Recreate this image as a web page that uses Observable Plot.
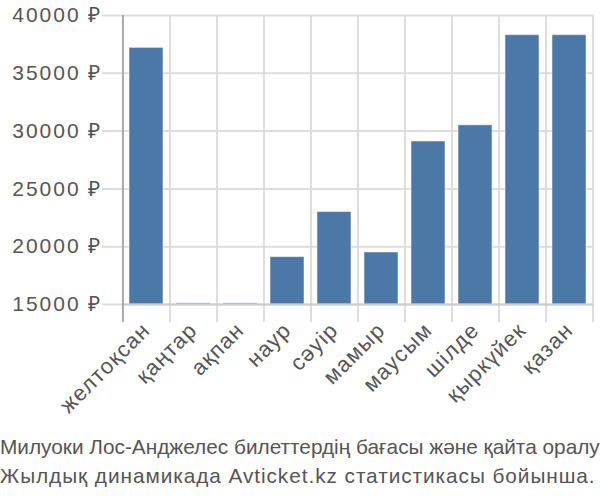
<!DOCTYPE html>
<html>
<head>
<meta charset="utf-8">
<script src="https://cdn.jsdelivr.net/npm/d3@7"></script>
<script src="https://cdn.jsdelivr.net/npm/@observablehq/plot@0.6"></script>
<style>
  body { margin: 0; background: #fff; font-family: "Liberation Sans", Arial, sans-serif; }
  #caption { color: #555; font-size: 20.8px; line-height: 29px; white-space: nowrap; margin-top: 2px; }
  #caption .l2 { letter-spacing: 0.94px; }
</style>
</head>
<body>
<div id="chart"></div>
<div id="caption"><span class="l1">Милуоки Лос-Анджелес билеттердің бағасы және қайта оралу</span><br><span class="l2">Жылдық динамикада Avticket.kz статистикасы бойынша.</span></div>
<script>
const months = ["желтоқсан","қаңтар","ақпан","наур","сәуір","мамыр","маусым","шілде","қыркүйек","қазан"];
const prices = [37200, 15100, 15100, 19100, 23000, 19500, 29100, 30500, 38300, 38300];
const yTicks = [15000, 20000, 25000, 30000, 35000, 40000];

const W = 600, H = 430, ML = 122, MR = 7, MT = 15, MB = 126;
const step = (W - ML - MR) / months.length;

const chart = Plot.plot({
  width: W, height: H,
  marginLeft: ML, marginRight: MR, marginTop: MT, marginBottom: MB,
  style: { fontFamily: "Liberation Sans, Arial, sans-serif", color: "#555", background: "#fff" },
  x: { type: "band", domain: months, paddingInner: 0.28, paddingOuter: 0.14, align: 0.5 },
  y: { domain: [15000, 40000] },
  marks: [
    Plot.ruleY(yTicks, { y: d => d, stroke: "#ddd", strokeWidth: 2, insetLeft: -20 }),
    Plot.ruleX(months, { x: d => d, dx: -step / 2, stroke: "#ddd", strokeWidth: 2, insetBottom: -18 }),
    Plot.ruleX([months[months.length - 1]], { x: d => d, dx: step / 2, stroke: "#ddd", strokeWidth: 2, insetBottom: -18 }),
    Plot.barY(months, { x: months, y1: 15000, y2: prices, fill: "#4c78a8", stroke: "#fff", strokeOpacity: 0.5, strokeWidth: 1 }),
    Plot.ruleY([15000], { stroke: "#ccc", strokeWidth: 2 }),
    Plot.ruleX([months[0]], { x: d => d, dx: -step / 2, stroke: "#aaa", strokeWidth: 2, insetBottom: -18 }),
    Plot.axisY({ ticks: yTicks, tickFormat: d => d + " ₽", tickSize: 0, tickPadding: 20, fontSize: 21, color: "#555" }),
    Plot.axisX({ tickRotate: -45, tickSize: 0, tickPadding: 22, fontSize: 22, color: "#555" })
  ]
});
d3.select(chart).selectAll("g[aria-label='y-axis tick label'] text").style("letter-spacing", "2px");
d3.select(chart).selectAll("g[aria-label='x-axis tick label'] text").style("letter-spacing", "1.2px");
document.getElementById("chart").appendChild(chart);
</script>
</body>
</html>
